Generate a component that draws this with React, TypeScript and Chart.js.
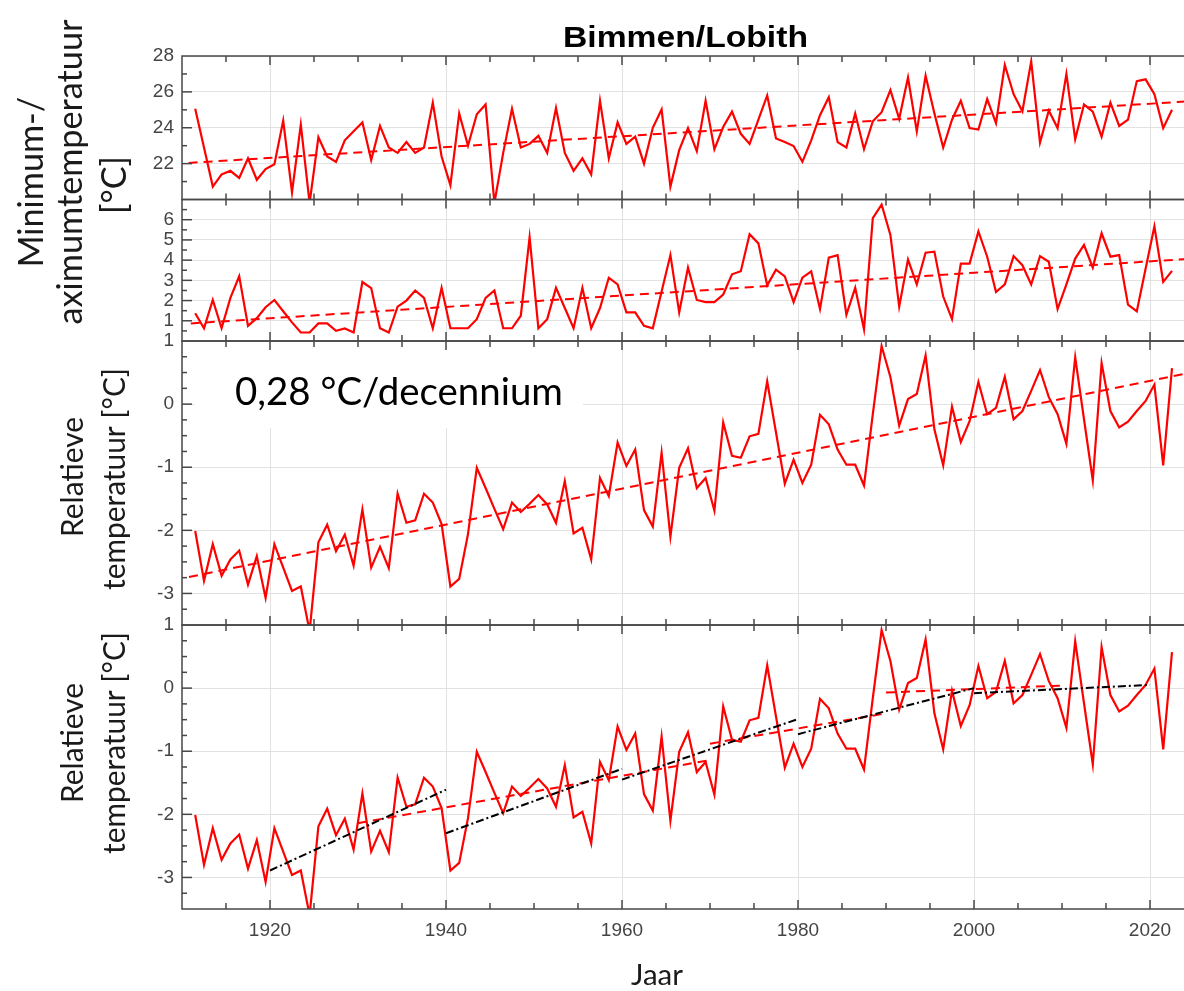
import React, { useEffect, useRef } from "react";
import { Chart, registerables } from "chart.js";

Chart.register(...registerables);

// ---------- data ----------
const YEARS = [
  1911, 1912, 1913, 1914, 1915, 1916, 1917, 1918, 1919, 1920,
  1921, 1922, 1923, 1924, 1925, 1926, 1927, 1928, 1929, 1930,
  1931, 1932, 1933, 1934, 1935, 1936, 1937, 1938, 1939, 1940,
  1941, 1942, 1943, 1944, 1945, 1946, 1947, 1948, 1949, 1950,
  1951, 1952, 1953, 1954, 1955, 1956, 1957, 1958, 1959, 1960,
  1961, 1962, 1963, 1964, 1965, 1966, 1967, 1968, 1969, 1970,
  1971, 1972, 1973, 1974, 1975, 1976, 1977, 1978, 1979, 1980,
  1981, 1982, 1983, 1984, 1985, 1986, 1987, 1988, 1989, 1990,
  1991, 1992, 1993, 1994, 1995, 1996, 1997, 1998, 1999, 2000,
  2001, 2002, 2003, 2004, 2005, 2006, 2007, 2008, 2009, 2010,
  2011, 2012, 2013, 2014, 2015, 2016, 2017, 2018, 2019, 2020,
  2021, 2022,
];

const MAX_TEMP = [
  25.06, 22.9, 20.72, 21.4, 21.6, 21.2, 22.3, 21.1, 21.7, 21.96,
  24.4, 20.4, 24.17, 19.8, 23.47, 22.4, 22.1, 23.3, 23.8, 24.3,
  22.2, 24.1, 22.9, 22.6, 23.2, 22.6, 22.9, 25.4, 22.4, 20.8,
  24.8, 23.0, 24.75, 25.3, 19.8, 22.6, 25.06, 22.9, 23.1, 23.55,
  22.6, 25.1, 22.6, 21.6, 22.3, 21.4, 25.5, 22.3, 24.3, 23.1,
  23.5, 22.0, 24.0, 25.02, 20.72, 22.75, 23.98, 22.7, 25.5, 22.8,
  24.04, 24.9, 23.66, 23.1, 24.45, 25.8, 23.4, 23.2, 22.98, 22.1,
  23.3, 24.7, 25.7, 23.2, 22.9, 24.8, 22.8, 24.36, 24.87, 26.1,
  24.5, 26.8, 23.8, 26.9, 24.8, 22.9, 24.45, 25.5, 23.98, 23.9,
  25.6, 24.26, 27.5, 25.87, 24.92, 27.7, 23.17, 24.96, 23.98, 27.0,
  23.36, 25.3, 24.9, 23.5, 25.4, 24.1, 24.45, 26.6, 26.7, 25.87,
  23.98, 25.0,
];

const MIN_TEMP = [
  1.37, 0.63, 2.03, 0.63, 2.13, 3.2, 0.75, 1.13, 1.67, 2.03,
  1.47, 0.92, 0.42, 0.42, 0.87, 0.87, 0.5, 0.62, 0.42, 2.92,
  2.62, 0.63, 0.42, 1.7, 2.0, 2.5, 2.13, 0.63, 2.63, 0.63,
  0.63, 0.63, 1.08, 2.13, 2.5, 0.63, 0.63, 1.25, 5.13, 0.63,
  1.08, 2.63, 1.63, 0.63, 2.63, 0.63, 1.63, 3.13, 2.8, 1.42,
  1.42, 0.75, 0.63, 2.45, 4.25, 1.42, 3.63, 2.03, 1.92, 1.92,
  2.3, 3.3, 3.45, 5.28, 4.83, 2.75, 3.53, 3.2, 1.92, 3.13,
  3.45, 1.58, 4.12, 4.25, 1.3, 2.63, 0.58, 6.08, 6.75, 5.25,
  1.7, 4.03, 2.8, 4.37, 4.42, 2.2, 1.08, 3.83, 3.83, 5.42,
  4.17, 2.42, 2.8, 4.2, 3.75, 2.8, 4.2, 3.92, 1.58, 2.8,
  4.08, 4.75, 3.63, 5.33, 4.17, 4.25, 1.8, 1.47, 3.57, 5.67,
  2.92, 3.47,
];

const REL_TEMP = [
  -2.01, -2.8, -2.22, -2.72, -2.46, -2.32, -2.86, -2.41, -3.07, -2.22,
  -2.59, -2.96, -2.89, -3.6, -2.19, -1.91, -2.33, -2.07, -2.56, -1.67,
  -2.59, -2.26, -2.6, -1.42, -1.88, -1.84, -1.42, -1.56, -1.9, -2.89,
  -2.77, -2.06, -1.01, -1.33, -1.66, -1.98, -1.56, -1.71, -1.58, -1.44,
  -1.59, -1.88, -1.22, -2.05, -1.96, -2.46, -1.17, -1.46, -0.61, -0.98,
  -0.72, -1.68, -1.94, -0.77, -2.1, -1.01, -0.7, -1.33, -1.17, -1.69,
  -0.29, -0.82, -0.85, -0.51, -0.47, 0.36, -0.45, -1.26, -0.88, -1.25,
  -0.96, -0.17, -0.32, -0.72, -0.96, -0.96, -1.29, -0.16, 0.92, 0.43,
  -0.34, 0.08, 0.16, 0.77, -0.4, -0.97, -0.04, -0.6, -0.27, 0.35,
  -0.16, -0.06, 0.43, -0.24, -0.11, 0.21, 0.54, 0.11, -0.16, -0.63,
  0.74, -0.24, -1.21, 0.65, -0.11, -0.37, -0.28, -0.11, 0.05, 0.31,
  -0.97, 0.57,
];

// linear trends (start/end)
const TREND_MAX_X = [1910.75, 2025];
const TREND_MAX_Y = [22.04, 25.49];
const TREND_MIN_X = [1911, 2025];
const TREND_MIN_Y = [0.87, 4.08];
const TREND_REL_X = [1910.8, 2025];
const TREND_REL_Y = [-2.74, 0.51];

// 20-year trend segments (black dash-dot)
const SEG20_X = [[1920, 1940], [1940, 1960], [1960, 1980], [1980, 2000], [2000, 2020]];
const SEG20_Y = [[-2.89, -1.61], [-2.3, -1.28], [-1.45, -0.49], [-0.73, 0.0], [-0.08, 0.05]];
// red dashed period trends
const SEGRED_X = [[1930, 1970], [1970, 1990], [1990, 2010]];
const SEGRED_Y = [[-2.14, -1.14], [-0.88, -0.4], [-0.07, 0.04]];

const X_TICKS = [1920, 1940, 1960, 1980, 2000, 2020];
const Y_MAX_TICKS = [22, 24, 26, 28];
const Y_MIN_TICKS = [1, 2, 3, 4, 5, 6];
const Y_REL_TICKS = [-3, -2, -1, 0, 1];

const TITLE = "Bimmen/Lobith";
const X_TITLE = "Jaar";
const Y_TITLE_TOP = ["Minimum-/", "aximumtemperatuur", "[°C]"];
const Y_TITLE_REL = ["Relatieve", "temperatuur [°C]"];
const ANNOTATION = "0,28 °C/decennium";

// ---------- style ----------
const RED = "#ff0000";
const AXIS = "#474747";
const GRID = "#e2e2e2";
const TICK_COLOR = "#454545";
const TICK_FONT = '"Liberation Sans", Arial, sans-serif';
const LABEL_FONT = 'Lato, "Open Sans", sans-serif';
const MID = 0.5;

const pts = (xs: number[], ys: number[]) => xs.map((x, i) => ({ x, y: ys[i] }));
const series = (vals: number[]) => YEARS.map((yr, i) => ({ x: yr + MID, y: vals[i] }));

const PANEL_TICKS: Record<string, { minor: number; major: number }> = {
  y1: { minor: 1, major: 2 },
  y2: { minor: 0.5, major: 1 },
  y3: { minor: 0.25, major: 1 },
  y4: { minor: 0.25, major: 1 },
};

function fitSize(ctx: CanvasRenderingContext2D, text: string, family: string, weight: string, target: number) {
  ctx.font = `${weight} 100px ${family}`;
  const w = ctx.measureText(text).width;
  return (100 * target) / w;
}

function rotText(ctx: CanvasRenderingContext2D, text: string, xBase: number, yCenter: number, size: number) {
  ctx.save();
  ctx.translate(xBase, yCenter);
  ctx.rotate(-Math.PI / 2);
  ctx.font = `${size}px ${LABEL_FONT}`;
  ctx.textAlign = "center";
  ctx.textBaseline = "alphabetic";
  ctx.fillText(text, 0, 0);
  ctx.restore();
}

const decor = {
  id: "decor",
  beforeDatasetsDraw(chart: any) {
    const ctx = chart.ctx;
    const y3 = chart.scales.y3;
    ctx.save();
    ctx.fillStyle = "#ffffff";
    ctx.fillRect(194, y3.top + 8, 389, 79);
    ctx.restore();
  },
  beforeDatasetDraw(chart: any, args: any) {
    const ys = chart.scales[args.meta.yAxisID];
    const a = chart.chartArea;
    const ctx = chart.ctx;
    ctx.save();
    ctx.beginPath();
    ctx.rect(a.left, ys.top, a.right - a.left, ys.bottom - ys.top);
    ctx.clip();
  },
  afterDatasetDraw(chart: any) {
    chart.ctx.restore();
  },
  afterDatasetsDraw(chart: any) {
    const ctx = chart.ctx;
    const a = chart.chartArea;
    const xs = chart.scales.x;
    ctx.save();
    ctx.strokeStyle = AXIS;
    ctx.lineWidth = 1.5;
    const line = (x1: number, y1: number, x2: number, y2: number) => {
      ctx.beginPath();
      ctx.moveTo(x1, y1);
      ctx.lineTo(x2, y2);
      ctx.stroke();
    };
    for (const id of ["y1", "y2", "y3", "y4"]) {
      const s = chart.scales[id];
      for (let yr = xs.min + 5; yr < xs.max; yr += 5) {
        const px = xs.getPixelForValue(yr);
        const len = yr % 20 === 0 ? 9 : 6;
        line(px, s.top, px, s.top + len);
        line(px, s.bottom, px, s.bottom - len);
      }
      const { minor, major } = PANEL_TICKS[id];
      const n = Math.round((s.max - s.min) / minor);
      for (let k = 1; k < n; k++) {
        const v = s.min + k * minor;
        const py = s.getPixelForValue(v);
        const isMajor = Math.abs(v / major - Math.round(v / major)) < 1e-6;
        const len = isMajor ? 10 : 5;
        line(a.left, py, a.left + len, py);
        line(a.right, py, a.right - len, py);
      }
      ctx.strokeRect(a.left, s.top, a.right - a.left, s.bottom - s.top);
    }
    ctx.restore();
  },
  afterDraw(chart: any) {
    const ctx = chart.ctx;
    ctx.save();
    // title
    ctx.fillStyle = "#000000";
    ctx.font = `bold 29px ${TICK_FONT}`;
    const tw = ctx.measureText(TITLE).width;
    ctx.save();
    ctx.translate(685.5, 47);
    ctx.scale(245 / tw, 1);
    ctx.textAlign = "center";
    ctx.textBaseline = "alphabetic";
    ctx.fillText(TITLE, 0, 0);
    ctx.restore();

    // annotation
    ctx.fillStyle = "#000000";
    const as = fitSize(ctx, ANNOTATION, LABEL_FONT, "normal", 328);
    ctx.font = `${as}px ${LABEL_FONT}`;
    ctx.textAlign = "left";
    ctx.textBaseline = "alphabetic";
    ctx.fillText(ANNOTATION, 235, 405);

    // x title
    ctx.fillStyle = "#1a1a1a";
    const js = fitSize(ctx, X_TITLE, LABEL_FONT, "normal", 52);
    ctx.font = `${js}px ${LABEL_FONT}`;
    ctx.textAlign = "center";
    ctx.fillText(X_TITLE, 657, 985);

    // y titles
    const topSize = fitSize(ctx, Y_TITLE_TOP[1], LABEL_FONT, "normal", 305);
    rotText(ctx, Y_TITLE_TOP[0], 43, 182, topSize);
    rotText(ctx, Y_TITLE_TOP[1], 82, 172, topSize);
    rotText(ctx, Y_TITLE_TOP[2], 126, 185, topSize);
    const relSize = fitSize(ctx, Y_TITLE_REL[1], LABEL_FONT, "normal", 222);
    rotText(ctx, Y_TITLE_REL[0], 83, 477, relSize);
    rotText(ctx, Y_TITLE_REL[1], 125, 479, relSize);
    rotText(ctx, Y_TITLE_REL[0], 83, 743, relSize);
    rotText(ctx, Y_TITLE_REL[1], 125, 743, relSize);
    ctx.restore();
  },
};

function yScale(min: number, max: number, ticks: number[], stackWeight: number, weight: number) {
  return {
    type: "linear",
    position: "left",
    stack: "panels",
    stackWeight,
    weight,
    min,
    max,
    afterBuildTicks: (s: any) => {
      s.ticks = ticks.map((v) => ({ value: v }));
    },
    afterFit: (s: any) => {
      s.width = 100;
    },
    grid: { color: GRID, lineWidth: 1, drawTicks: false },
    border: { display: false },
    ticks: {
      autoSkip: false,
      padding: 8,
      color: TICK_COLOR,
      font: { family: TICK_FONT, size: 19 },
      callback: (v: any) => String(v),
    },
  };
}

const mainLine = (data: any[], yAxisID: string) => ({
  data,
  yAxisID,
  borderColor: RED,
  borderWidth: 2.2,
  pointRadius: 0,
  fill: false,
});
const dashed = (data: any[], yAxisID: string, color: string, dash: number[]) => ({
  data,
  yAxisID,
  borderColor: color,
  borderWidth: 2,
  borderDash: dash,
  pointRadius: 0,
  fill: false,
});

export default function App() {
  const ref = useRef<HTMLCanvasElement | null>(null);
  useEffect(() => {
    if (!ref.current) return;
    const datasets: any[] = [];
    SEG20_X.forEach((xs, i) => datasets.push(dashed(pts(xs, SEG20_Y[i]), "y4", "#000000", [8, 3, 2, 3])));
    SEGRED_X.forEach((xs, i) => datasets.push(dashed(pts(xs, SEGRED_Y[i]), "y4", RED, [9, 6])));
    datasets.push(dashed(pts(TREND_MAX_X, TREND_MAX_Y), "y1", RED, [9, 6]));
    datasets.push(dashed(pts(TREND_MIN_X, TREND_MIN_Y), "y2", RED, [9, 6]));
    datasets.push(dashed(pts(TREND_REL_X, TREND_REL_Y), "y3", RED, [9, 6]));
    datasets.push(mainLine(series(MAX_TEMP), "y1"));
    datasets.push(mainLine(series(MIN_TEMP), "y2"));
    datasets.push(mainLine(series(REL_TEMP), "y3"));
    datasets.push(mainLine(series(REL_TEMP), "y4"));

    const chart = new Chart(ref.current, {
      type: "line",
      data: { datasets },
      plugins: [decor],
      options: {
        animation: false,
        responsive: false,
        devicePixelRatio: 1,
        layout: { padding: { left: 82, right: 6, top: 56, bottom: 42 } },
        plugins: { legend: { display: false }, tooltip: { enabled: false } },
        elements: { line: { tension: 0 }, point: { radius: 0 } },
        scales: {
          x: {
            type: "linear",
            position: "bottom",
            min: 1910,
            max: 2025,
            afterBuildTicks: (s: any) => {
              s.ticks = X_TICKS.map((v) => ({ value: v }));
            },
            afterFit: (s: any) => {
              s.height = 40;
            },
            grid: { color: GRID, lineWidth: 1, drawTicks: false },
            border: { display: false },
            ticks: {
              autoSkip: false,
              maxRotation: 0,
              padding: 10,
              color: TICK_COLOR,
              font: { family: TICK_FONT, size: 19 },
              callback: (v: any) => String(v),
            },
          },
          y4: yScale(-3.5, 1, Y_REL_TICKS, 284, 1),
          y3: yScale(-3.5, 1, Y_REL_TICKS, 284, 2),
          y2: yScale(0, 7, Y_MIN_TICKS, 141.5, 3),
          y1: yScale(20, 28, Y_MAX_TICKS, 143.5, 4),
        } as any,
      },
    } as any);
    return () => chart.destroy();
  }, []);

  return (
    <div
      style={{
        position: "fixed",
        left: 0,
        top: 0,
        width: 1184,
        height: 991,
        overflow: "hidden",
        background: "#ffffff",
      }}
    >
      <canvas ref={ref} width={1200} height={991} style={{ display: "block" }} />
    </div>
  );
}
